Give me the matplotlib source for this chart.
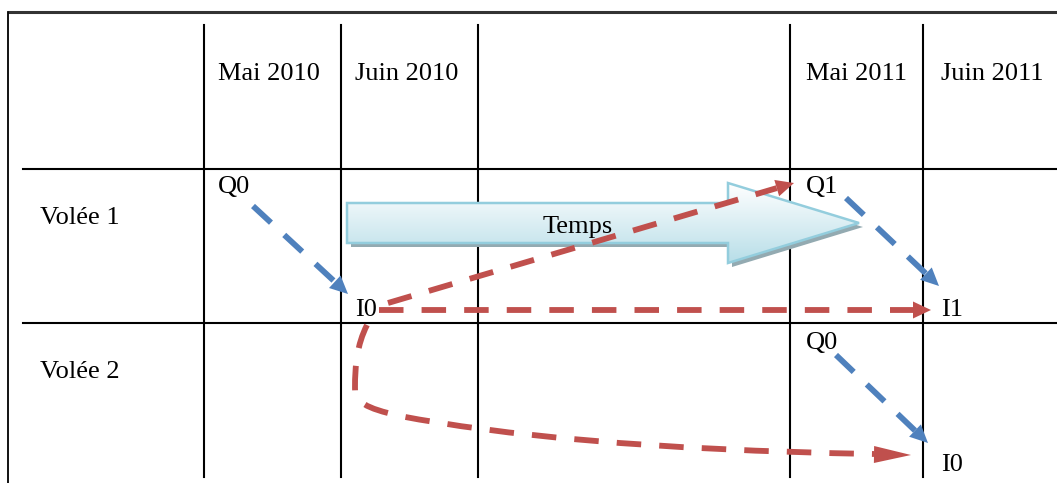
import numpy as np
import matplotlib
matplotlib.use("Agg")
from matplotlib import pyplot as plt
from matplotlib.path import Path
from matplotlib.patches import PathPatch, Polygon

# texts of the diagram
col_labels = ["Mai 2010", "Juin 2010", "Mai 2011", "Juin 2011"]
row_labels = ["Volée 1", "Volée 2"]
node_labels = ["Q0", "I0", "Q1", "I1", "Q0", "I0"]
time_label = "Temps"

# layout (pixels, origin top-left)
col_label_pos = [(218, 80), (355, 80), (806, 80), (941, 80)]
row_label_pos = [(40, 224), (40, 378)]
node_pos = [(218, 193), (355, 316), (806, 193), (941, 316), (806, 349), (941, 471)]
v_lines = [204, 341, 478, 790, 923]
h_lines = [169, 323]

# (start, tip) of straight arrows
blue_arrows = [((253, 206), (348, 294)), ((846, 198), (939, 286)), ((836, 355), (928, 443))]
red_arrows = [((379, 310), (931, 310)), ((388, 303), (794, 183))]

RED = "#c0504d"
BLUE = "#4f81bd"
W, H = 1057, 483

fig = plt.figure(figsize=(W / 100, H / 100), dpi=100)
ax = fig.add_axes([0, 0, 1, 1])
ax.set_xlim(0, W)
ax.set_ylim(H, 0)
ax.axis("off")

# table frame
ax.plot([8, W], [11.5, 11.5], color="#333333", lw=2.2, solid_capstyle="butt")
ax.plot([8, 8], [11.5, H], color="black", lw=1.3)
for x in v_lines:
    ax.plot([x, x], [25, 477], color="black", lw=1.5)
for y in h_lines:
    ax.plot([23, W], [y, y], color="black", lw=1.5)

font = dict(family="Liberation Serif", fontsize=19, color="black")
for lab, (x, y) in zip(col_labels, col_label_pos):
    ax.text(x, y, lab, ha="left", va="baseline", **font)
for lab, (x, y) in zip(row_labels, row_label_pos):
    ax.text(x, y, lab, ha="left", va="baseline", **font)
for lab, (x, y) in zip(node_labels, node_pos):
    ax.text(x, y, lab, ha="left", va="baseline", zorder=6, **font)

# "Temps" block arrow with gradient and shadow
shape = [(347, 203), (728, 203), (728, 183), (859, 223), (728, 263), (728, 243), (347, 243)]
shadow = Polygon([(x + 4, y + 4) for x, y in shape], closed=True, fc="#93aab1", ec="none", zorder=2)
ax.add_patch(shadow)
body = Polygon(shape, closed=True, fc="none", ec="#93cddd", lw=1.8, zorder=3)
ax.add_patch(body)
grad = np.linspace(0, 1, 100)[:, None]
c0 = np.array([1.0, 1.0, 1.0])
c1 = np.array([0.72, 0.87, 0.91])
img = (c0 + (c1 - c0) * grad)[:, None, :].repeat(2, axis=1)
im = ax.imshow(img, extent=[347, 859, 263, 183], origin="upper", aspect="auto", zorder=2.5, interpolation="bilinear")
clip = Polygon(shape, closed=True, transform=ax.transData)
im.set_clip_path(clip)
ax.text(578, 233, time_label, ha="center", va="baseline", zorder=4, **font)

dash = (0, (4.2, 3.1))


def head(tip, base, color, hw=17):
    tip = np.array(tip, float)
    base = np.array(base, float)
    d = (tip - base) / np.linalg.norm(tip - base)
    n = np.array([-d[1], d[0]])
    ax.add_patch(Polygon([tip, base + n * hw / 2, base - n * hw / 2], closed=True, fc=color, ec="none", zorder=5))


def straight(start, tip, color, hl=18):
    s = np.array(start, float)
    t = np.array(tip, float)
    d = (t - s) / np.linalg.norm(t - s)
    b = t - d * hl
    ax.plot([s[0], b[0]], [s[1], b[1]], color=color, lw=4.2, linestyle=dash, dash_capstyle="butt", zorder=5)
    head(t, b, color)


for s, t in blue_arrows:
    straight(s, t, BLUE)
for s, t in red_arrows:
    straight(s, t, RED)

# curved red arrow from I0 (volée 1) to I0 (volée 2)
verts = [(367, 325), (357, 345), (355, 365), (355, 388),
         (355, 402), (365, 408), (400, 416),
         (500, 435), (650, 450), (874, 454)]
codes = [Path.MOVETO] + [Path.CURVE4] * 9
ax.add_patch(PathPatch(Path(verts, codes), fc="none", ec=RED, lw=4.2, linestyle=dash, capstyle="butt", zorder=5))
head((911, 455), (874, 454.5), RED)

fig.savefig("out.png", dpi=100)
